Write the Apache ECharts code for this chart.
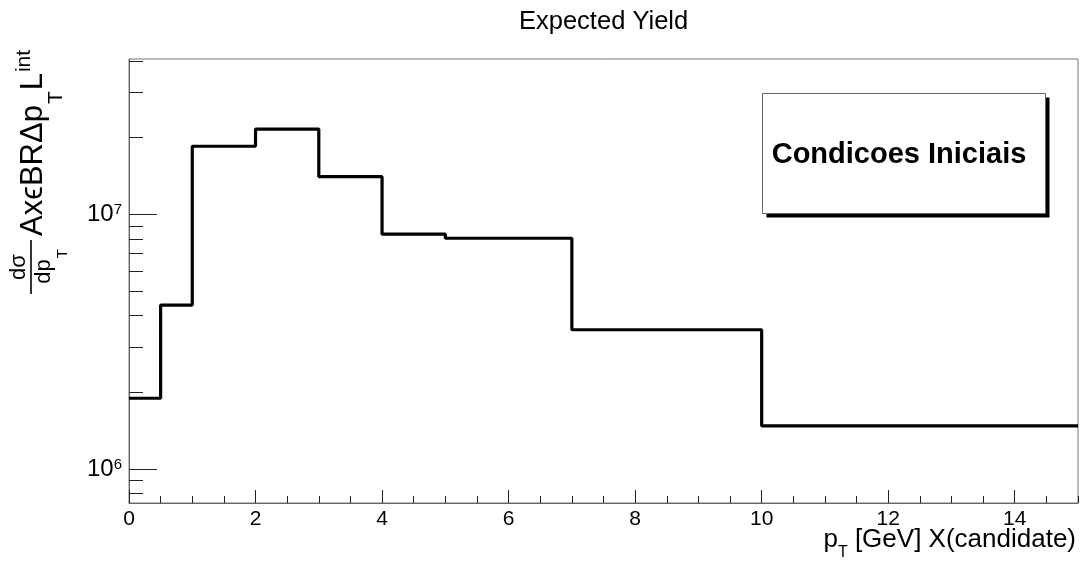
<!DOCTYPE html>
<html>
<head>
<meta charset="utf-8">
<script src="https://cdn.jsdelivr.net/npm/echarts@6/dist/echarts.min.js"></script>
<style>
  html, body { margin: 0; padding: 0; background: #fff; }
  #chart { width: 1082px; height: 561px; }
</style>
</head>
<body>
<div id="chart"></div>
<script>
// Histogram bins: pT edges (GeV) and the expected yield in each bin
const binEdges = [0, 0.5, 1, 2, 3, 4, 5, 7, 10, 15];
const yieldPerBin = [1.895e6, 4.40e6, 1.849e7, 2.16e7, 1.405e7, 8.35e6, 8.05e6, 3.52e6, 1.475e6];

// Axis ticks
const xMajorTicks = [0, 2, 4, 6, 8, 10, 12, 14];
const yMajorTicks = [1e6, 1e7];
const yMinorTicks = [8e5, 9e5, 2e6, 3e6, 4e6, 5e6, 6e6, 7e6, 8e6, 9e6, 2e7, 3e7, 4e7];
const xRange = [0, 15];
const yRange = [7.35e5, 4.07e7];

// Texts
const titleText = 'Expected Yield';
const legendText = 'Condicoes Iniciais';

const FONT = '"Liberation Sans", Arial, Helvetica, sans-serif';
const measureCtx = document.createElement('canvas').getContext('2d');
function textWidth(str, size, weight) {
  measureCtx.font = (weight || 'normal') + ' ' + size + 'px ' + FONT;
  return measureCtx.measureText(str).width;
}
function txt(str, x, y, size, opts) {
  opts = opts || {};
  return {
    type: 'text', x: x, y: y,
    style: {
      text: str, fontSize: size, fontFamily: FONT, fontWeight: opts.weight || 'normal',
      fill: '#000', align: opts.align || 'left', verticalAlign: 'middle',
      textAlign: opts.align || 'left', textVerticalAlign: 'middle'
    }
  };
}

// Histogram outline as a step line through the bin edges
const stepPoints = binEdges.map((e, i) => [e, yieldPerBin[Math.min(i, yieldPerBin.length - 1)]]);

// Vertical axis title, drawn in a rotated frame (local x runs upward, local y runs right)
function yTitle() {
  const big = 31, frac = 22, sub = 21;
  const kids = [];
  // fraction d(sigma)/dp_T
  const barStart = 4, barEnd = 58, barY = 31;
  const mid = (barStart + barEnd) / 2;
  kids.push(txt('dσ', mid, 19, frac, { align: 'center' }));
  kids.push({ type: 'line', shape: { x1: barStart, y1: barY, x2: barEnd, y2: barY },
              style: { stroke: '#000', lineWidth: 1.6 } });
  const dpW = textWidth('dp', frac), tW = textWidth('T', 15);
  const dx = mid - (dpW + tW) / 2;
  kids.push(txt('dp', dx, 44, frac));
  kids.push(txt('T', dx + dpW + 1, 63, 15));
  // A x eps BR Delta p_T L_int
  const mainStr = 'AxϵBRΔp';
  let mx = 62;
  kids.push(txt(mainStr, mx, 33, big));
  mx += textWidth(mainStr, big) + 1;
  kids.push(txt('T', mx, 56, sub));
  mx += textWidth('T', sub) + 1;
  kids.push(txt('L', mx, 33, big));
  mx += textWidth('L', big) + 1;
  kids.push(txt('int', mx, 24, sub));
  return { type: 'group', x: 0, y: 298, rotation: Math.PI / 2, children: kids };
}

// Horizontal axis title with subscript
function xTitle() {
  const size = 26, subSize = 16, right = 1076, cy = 540;
  const mainStr = ' [GeV] X(candidate)';
  const start = right - textWidth(mainStr, size);
  const tW = textWidth('T', subSize);
  return {
    type: 'group',
    children: [
      txt(mainStr, right, cy, size, { align: 'right' }),
      txt('T', start - tW, cy + 13, subSize),
      txt('p', start - tW, cy, size, { align: 'right' })
    ]
  };
}

// Text box with drop shadow
function legendBox() {
  const x = 762.5, y = 93.5, w = 283, h = 120, sh = 4;
  return {
    type: 'group',
    children: [
      { type: 'rect', shape: { x: x + sh, y: y + sh, width: w, height: h }, style: { fill: '#000' } },
      { type: 'rect', shape: { x: x, y: y, width: w, height: h }, style: { fill: '#fff', stroke: '#666', lineWidth: 1 } },
      txt(legendText, x + w / 2 - 5, y + h / 2 + 1, 29, { align: 'center', weight: 'bold' })
    ]
  };
}

const chart = echarts.init(document.getElementById('chart'), null, { renderer: 'canvas' });
const axisLineColor = '#666';
const tickColor = '#222';

chart.setOption({
  animation: false,
  backgroundColor: '#fff',
  textStyle: { fontFamily: FONT },
  title: {
    text: titleText, left: 519, top: 9, padding: 0,
    textStyle: { fontSize: 25.5, fontWeight: 'normal', color: '#000', fontFamily: FONT }
  },
  grid: {
    left: 129, right: 4, top: 59, bottom: 58,
    show: true, borderColor: '#777', borderWidth: 1, backgroundColor: 'transparent'
  },
  xAxis: [
    {
      type: 'value', position: 'bottom', min: xRange[0], max: xRange[1], interval: 0.5,
      axisLine: { show: true, onZero: false, lineStyle: { color: axisLineColor, width: 1 } },
      axisTick: { show: true, inside: true, length: 7, lineStyle: { color: tickColor } },
      splitLine: { show: false },
      axisLabel: {
        customValues: xMajorTicks, fontSize: 21, color: '#000', margin: 6, fontFamily: FONT
      }
    },
    {
      type: 'value', position: 'bottom', offset: 0, min: xRange[0], max: xRange[1],
      axisLine: { show: false },
      axisTick: { show: true, inside: true, length: 13, customValues: xMajorTicks, lineStyle: { color: tickColor } },
      splitLine: { show: false },
      axisLabel: { show: false }
    }
  ],
  yAxis: [
    {
      type: 'log', logBase: 10, position: 'left', min: yRange[0], max: yRange[1],
      axisLine: { show: true, onZero: false, lineStyle: { color: axisLineColor, width: 1 } },
      axisTick: { show: true, inside: true, length: 28, customValues: yMajorTicks, lineStyle: { color: tickColor } },
      splitLine: { show: false },
      axisLabel: {
        customValues: yMajorTicks, margin: 7, color: '#000',
        formatter: v => '{b|10}{e|' + Math.round(Math.log10(v)) + '}',
        rich: {
          b: { fontSize: 24, fontFamily: FONT, color: '#000' },
          e: { fontSize: 15, fontFamily: FONT, color: '#000', verticalAlign: 'top' }
        }
      }
    },
    {
      type: 'log', logBase: 10, position: 'left', offset: 0, min: yRange[0], max: yRange[1],
      axisLine: { show: false },
      axisTick: { show: true, inside: true, length: 14, customValues: yMinorTicks, lineStyle: { color: tickColor } },
      splitLine: { show: false },
      axisLabel: { show: false }
    }
  ],
  series: [
    {
      name: 'Expected Yield', type: 'line', xAxisIndex: 0, yAxisIndex: 0,
      data: stepPoints, step: 'end', symbol: 'none',
      lineStyle: { color: '#000', width: 3.2 }, z: 3
    }
  ],
  graphic: [yTitle(), xTitle(), legendBox()]
});
</script>
</body>
</html>
